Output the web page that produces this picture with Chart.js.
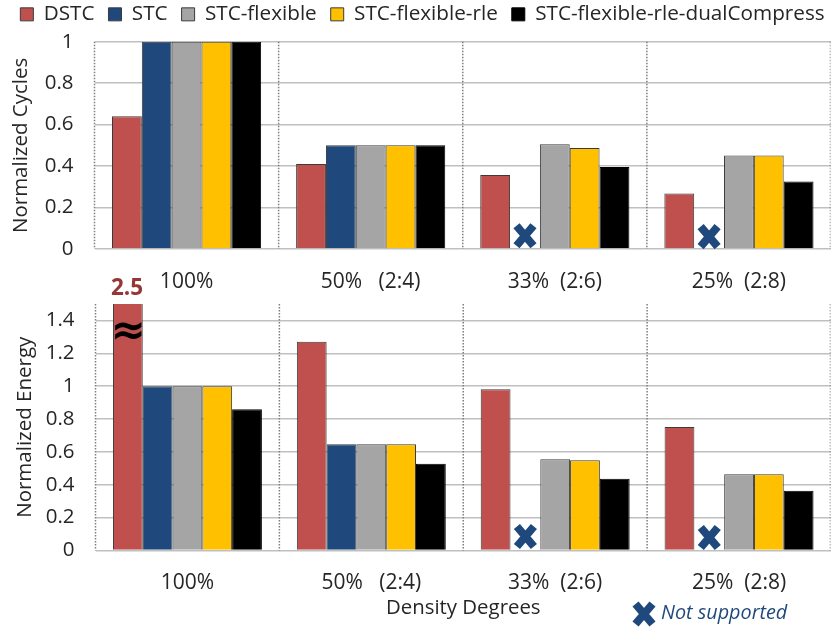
<!DOCTYPE html>
<html>
<head>
<meta charset="utf-8">
<script src="https://cdn.jsdelivr.net/npm/chart.js@4"></script>
<style>
html,body{margin:0;padding:0;background:#fff;overflow:hidden}
canvas{position:absolute;left:0}
#top{top:0}
#bottom{top:270px}
</style>
</head>
<body>
<canvas id="top" width="831" height="300"></canvas>
<canvas id="bottom" width="831" height="359"></canvas>
<script>
const categories = ['100%', '50%   (2:4)', '33%  (2:6)', '25%  (2:8)'];
const seriesNames = ['DSTC', 'STC', 'STC-flexible', 'STC-flexible-rle', 'STC-flexible-rle-dualCompress'];
const seriesColors = ['#c0504d', '#1f497d', '#a5a5a5', '#ffc000', '#000000'];

const cyclesDSTC = [0.64, 0.41, 0.357, 0.268];
const cyclesSTC = [1, 0.5, null, null];
const cyclesFlexible = [1, 0.5, 0.505, 0.451];
const cyclesRle = [1, 0.5, 0.487, 0.451];
const cyclesDual = [1, 0.5, 0.395, 0.326];

const energyDSTC = [2.5, 1.271, 0.981, 0.752];
const energySTC = [1, 0.646, null, null];
const energyFlexible = [1, 0.646, 0.555, 0.464];
const energyRle = [1, 0.646, 0.549, 0.464];
const energyDual = [0.859, 0.528, 0.437, 0.364];

const cyclesTicks = [0, 0.2, 0.4, 0.6, 0.8, 1];
const energyTicks = [0, 0.2, 0.4, 0.6, 0.8, 1, 1.2, 1.4];
const cyclesCross = [null, null, 0.064, 0.06];
const energyCross = [null, null, 0.085, 0.079];

const FONT = '"Open Sans"';
const TEXT = '#262626';
const CROSS = '#1f497d';

function drawCross(ctx, x, y) {
  ctx.save();
  ctx.strokeStyle = CROSS;
  ctx.lineWidth = 8;
  ctx.beginPath();
  ctx.moveTo(x - 8.5, y - 10); ctx.lineTo(x + 8.5, y + 10);
  ctx.moveTo(x + 8.5, y - 10); ctx.lineTo(x - 8.5, y + 10);
  ctx.stroke();
  ctx.restore();
}

function crossPlugin(values) {
  return {
    id: 'crosses',
    afterDatasetsDraw(chart) {
      const meta = chart.getDatasetMeta(1);
      const yScale = chart.scales.y;
      values.forEach((v, i) => {
        if (v === null) return;
        drawCross(chart.ctx, meta.data[i].x, yScale.getPixelForValue(v));
      });
    }
  };
}

const energyNotes = {
  id: 'energyNotes',
  afterDraw(chart) {
    const c = chart.ctx;
    c.save();
    c.textBaseline = 'middle';
    c.textAlign = 'center';
    c.fillStyle = '#953735';
    c.font = 'bold 22.5px ' + FONT;
    c.fillText('2.5', 127, 19);
    c.fillStyle = '#000';
    c.font = 'bold 42px "DejaVu Sans"';
    c.fillText('\u2248', 128, 63);
    drawCross(c, 644, 344);
    c.textAlign = 'left';
    c.fillStyle = CROSS;
    c.font = 'italic 19.8px ' + FONT;
    c.fillText('Not supported', 661, 343);
    c.restore();
  }
};

function makeDatasets(rows) {
  return rows.map((values, i) => ({
    label: seriesNames[i],
    data: values,
    backgroundColor: seriesColors[i],
    borderColor: i === 4 ? '#000000' : '#3a3a3a',
    borderWidth: 1,
    barPercentage: 1,
    categoryPercentage: 0.81
  }));
}

function makeOptions(cfg) {
  return {
    responsive: false,
    animation: false,
    layout: { padding: cfg.padding },
    plugins: {
      tooltip: { enabled: false },
      legend: cfg.legend
    },
    scales: {
      x: {
        border: { display: false },
        grid: { display: false, drawTicks: false },
        ticks: { color: TEXT, font: { family: FONT, size: 21 }, padding: 20, maxRotation: 0 },
        title: cfg.xTitle,
        afterFit(s) { s.height = cfg.xHeight; }
      },
      y: {
        min: 0,
        max: cfg.max,
        border: { display: false },
        grid: { color: '#c0c0c0', lineWidth: 1.6, drawTicks: false },
        ticks: { color: TEXT, font: { family: FONT, size: 20.5 }, padding: 21, callback: v => String(v) },
        afterBuildTicks(s) { s.ticks = cfg.ticks.map(v => ({ value: v })); },
        title: {
          display: true,
          text: cfg.yTitle,
          color: TEXT,
          font: { family: FONT, size: 20.5 },
          padding: { top: -5, bottom: 0 }
        },
        afterFit(s) { s.width = cfg.yWidth; }
      }
    }
  };
}

const dottedGrid = {
  id: 'dottedGrid',
  beforeDatasetsDraw(chart) {
    const a = chart.chartArea, c = chart.ctx;
    const step = (a.right - a.left) / categories.length;
    c.save();
    c.strokeStyle = '#7f7f7f';
    c.lineWidth = 1.5;
    c.setLineDash([1.5, 1.5]);
    for (let i = 0; i <= categories.length; i++) {
      const p = Math.min(a.left + i * step, a.right - 0.75);
      c.globalAlpha = i === categories.length ? 0.5 : 1;
      c.beginPath();
      c.moveTo(p, a.top);
      c.lineTo(p, a.bottom);
      c.stroke();
    }
    c.restore();
  }
};

const legendRow = {
  id: 'legendRow',
  beforeLayout(chart) {
    const lg = chart.legend;
    if (!lg || lg._patched) return;
    const fit = lg.fit;
    lg.fit = function () {
      const m = this.maxWidth;
      this.maxWidth = m + 60;
      fit.call(this);
      this.maxWidth = m;
      this.width = m;
      this.height += 7;
    };
    lg._patched = true;
  },
  afterLayout(chart) {
    const lg = chart.legend;
    lg.left -= 30;
    lg.right += 30;
  }
};

const topOpts = makeOptions({
  padding: { left: 14, right: 0, top: -10, bottom: 5 },
  legend: {
    display: true,
    position: 'top',
    labels: {
      color: TEXT,
      font: { family: FONT, size: 20.7 },
      boxWidth: 13,
      boxHeight: 13,
      padding: 14
    }
  },
  xTitle: { display: false },
  xHeight: 46,
  max: 1,
  ticks: cyclesTicks,
  yTitle: 'Normalized Cycles',
  yWidth: 80.5
});

const bottomOpts = makeOptions({
  padding: { left: 18, right: 0, top: 34, bottom: 9 },
  legend: { display: false },
  xTitle: {
    display: true,
    text: 'Density Degrees',
    color: TEXT,
    font: { family: FONT, size: 20.4 },
    padding: 0
  },
  xHeight: 69.5,
  max: 1.5,
  ticks: energyTicks,
  yTitle: 'Normalized Energy',
  yWidth: 77.5
});

new Chart(document.getElementById('top'), {
  type: 'bar',
  data: {
    labels: categories,
    datasets: makeDatasets([cyclesDSTC, cyclesSTC, cyclesFlexible, cyclesRle, cyclesDual])
  },
  options: topOpts,
  plugins: [legendRow, dottedGrid, crossPlugin(cyclesCross)]
});

new Chart(document.getElementById('bottom'), {
  type: 'bar',
  data: {
    labels: categories,
    datasets: makeDatasets([energyDSTC, energySTC, energyFlexible, energyRle, energyDual])
  },
  options: bottomOpts,
  plugins: [dottedGrid, crossPlugin(energyCross), energyNotes]
});
</script>
</body>
</html>
